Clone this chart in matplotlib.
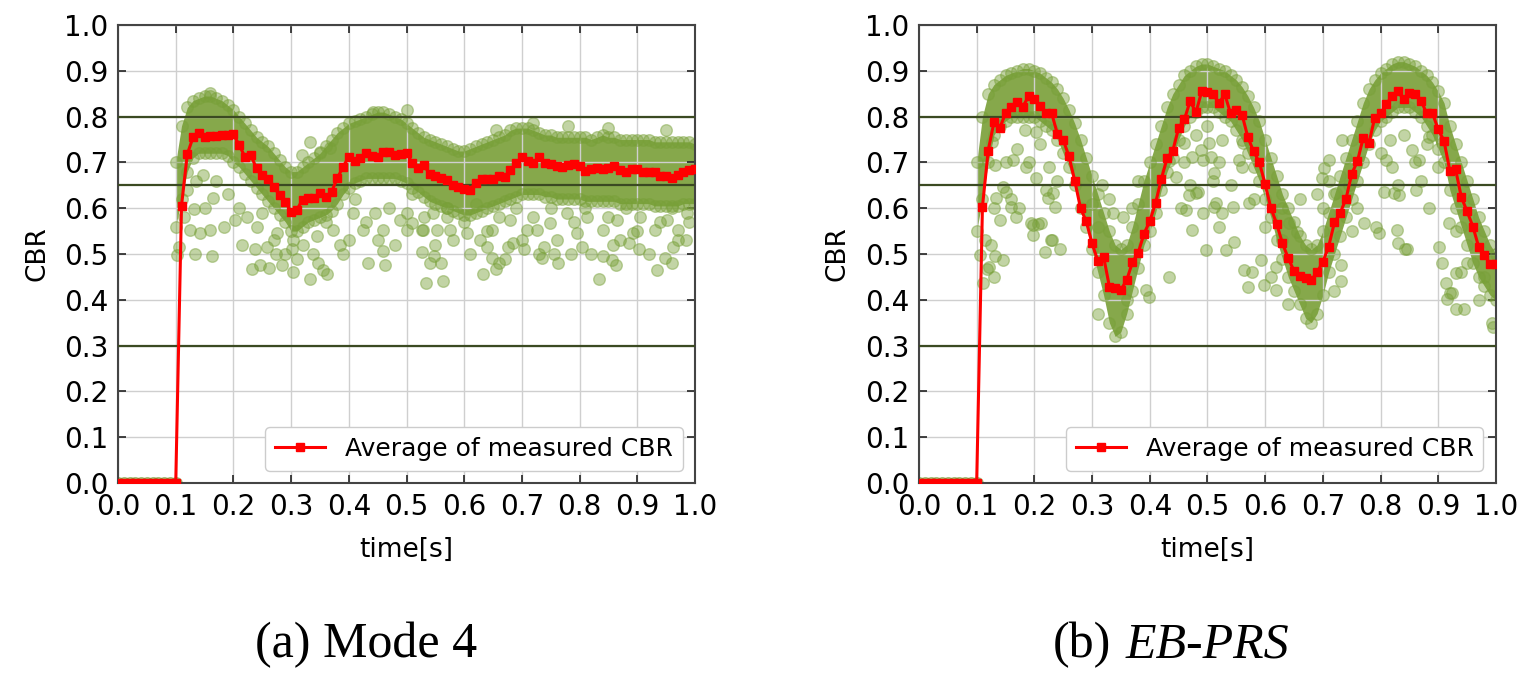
import numpy as np
import matplotlib
matplotlib.use("Agg")
import matplotlib.pyplot as plt

# time grid of the averaged curve (every 10 ms)
t_avg = np.round(np.arange(0, 101) * 0.01, 2)

# average of measured CBR, Mode 4
avg_mode4 = [0.0] * 11 + [
    0.605, 0.718, 0.755, 0.764, 0.756, 0.757, 0.757, 0.760, 0.760, 0.761,
    0.738, 0.712, 0.716, 0.687, 0.672, 0.663, 0.646, 0.629, 0.614, 0.592,
    0.597, 0.619, 0.622, 0.622, 0.634, 0.625, 0.636, 0.665, 0.691, 0.712,
    0.702, 0.709, 0.721, 0.714, 0.711, 0.723, 0.723, 0.716, 0.718, 0.720,
    0.699, 0.687, 0.694, 0.675, 0.671, 0.667, 0.662, 0.651, 0.647, 0.643,
    0.640, 0.656, 0.663, 0.663, 0.663, 0.671, 0.669, 0.683, 0.698, 0.711,
    0.704, 0.699, 0.712, 0.698, 0.696, 0.692, 0.691, 0.694, 0.697, 0.693,
    0.682, 0.685, 0.688, 0.685, 0.688, 0.692, 0.684, 0.678, 0.685, 0.685,
    0.678, 0.680, 0.680, 0.670, 0.670, 0.665, 0.672, 0.678, 0.683, 0.686]

# average of measured CBR, EB-PRS
avg_ebprs = [0.0] * 11 + [
    0.603, 0.726, 0.788, 0.775, 0.807, 0.820, 0.831, 0.822, 0.844, 0.839,
    0.823, 0.807, 0.807, 0.762, 0.749, 0.713, 0.660, 0.600, 0.571, 0.523,
    0.485, 0.494, 0.429, 0.425, 0.422, 0.443, 0.482, 0.503, 0.544, 0.572,
    0.611, 0.664, 0.709, 0.726, 0.775, 0.794, 0.834, 0.809, 0.855, 0.853,
    0.849, 0.829, 0.849, 0.807, 0.815, 0.804, 0.755, 0.724, 0.700, 0.652,
    0.600, 0.566, 0.523, 0.491, 0.463, 0.452, 0.447, 0.443, 0.460, 0.483,
    0.516, 0.569, 0.590, 0.620, 0.675, 0.703, 0.754, 0.743, 0.798, 0.807,
    0.827, 0.845, 0.855, 0.838, 0.852, 0.849, 0.835, 0.807, 0.807, 0.772,
    0.747, 0.682, 0.685, 0.624, 0.593, 0.560, 0.516, 0.498, 0.478, 0.478]

# dense cloud of measured CBR (upper / lower edge), t = 0.10 ... 1.00
t_band = t_avg[10:]
hi_mode4 = [
    0.70, 0.78, 0.82, 0.835, 0.84, 0.845, 0.845, 0.84, 0.835, 0.825,
    0.815, 0.80, 0.785, 0.77, 0.755, 0.745, 0.735, 0.72, 0.705, 0.69,
    0.68, 0.68, 0.69, 0.70, 0.71, 0.72, 0.735, 0.75, 0.765, 0.775,
    0.785, 0.79, 0.795, 0.80, 0.805, 0.81, 0.81, 0.805, 0.80, 0.795,
    0.785, 0.775, 0.765, 0.755, 0.75, 0.745, 0.74, 0.735, 0.73, 0.725,
    0.725, 0.73, 0.735, 0.74, 0.745, 0.75, 0.755, 0.76, 0.77, 0.775,
    0.775, 0.775, 0.77, 0.765, 0.76, 0.76, 0.755, 0.755, 0.755, 0.755,
    0.755, 0.755, 0.75, 0.755, 0.76, 0.755, 0.755, 0.75, 0.75, 0.75,
    0.75, 0.75, 0.75, 0.745, 0.745, 0.745, 0.745, 0.745, 0.745, 0.745,
    0.74]
lo_mode4 = [
    0.56, 0.62, 0.68, 0.71, 0.72, 0.72, 0.72, 0.72, 0.72, 0.715,
    0.70, 0.69, 0.675, 0.66, 0.645, 0.63, 0.615, 0.60, 0.585, 0.57,
    0.55, 0.55, 0.56, 0.57, 0.575, 0.58, 0.585, 0.595, 0.61, 0.63,
    0.645, 0.655, 0.66, 0.665, 0.665, 0.665, 0.665, 0.665, 0.665, 0.66,
    0.655, 0.645, 0.635, 0.625, 0.615, 0.61, 0.605, 0.60, 0.595, 0.59,
    0.585, 0.585, 0.59, 0.595, 0.60, 0.605, 0.61, 0.615, 0.62, 0.625,
    0.63, 0.63, 0.63, 0.63, 0.625, 0.625, 0.62, 0.62, 0.62, 0.62,
    0.62, 0.615, 0.615, 0.615, 0.615, 0.615, 0.615, 0.61, 0.61, 0.61,
    0.61, 0.61, 0.61, 0.605, 0.605, 0.605, 0.605, 0.605, 0.61, 0.61,
    0.61]
hi_ebprs = [
    0.70, 0.80, 0.85, 0.87, 0.88, 0.89, 0.895, 0.90, 0.905, 0.905,
    0.90, 0.895, 0.885, 0.875, 0.86, 0.84, 0.815, 0.785, 0.75, 0.71,
    0.67, 0.63, 0.59, 0.55, 0.52, 0.51, 0.52, 0.56, 0.61, 0.66,
    0.70, 0.74, 0.78, 0.82, 0.85, 0.87, 0.89, 0.90, 0.91, 0.915,
    0.915, 0.91, 0.905, 0.90, 0.89, 0.88, 0.865, 0.845, 0.82, 0.79,
    0.75, 0.71, 0.67, 0.63, 0.60, 0.57, 0.54, 0.52, 0.51, 0.52,
    0.55, 0.59, 0.63, 0.67, 0.71, 0.75, 0.79, 0.83, 0.86, 0.88,
    0.895, 0.905, 0.915, 0.92, 0.92, 0.915, 0.91, 0.90, 0.89, 0.875,
    0.855, 0.83, 0.78, 0.74, 0.70, 0.66, 0.62, 0.58, 0.55, 0.52,
    0.50]
lo_ebprs = [
    0.55, 0.62, 0.70, 0.76, 0.78, 0.79, 0.80, 0.80, 0.80, 0.80,
    0.80, 0.79, 0.78, 0.77, 0.75, 0.72, 0.69, 0.65, 0.60, 0.56,
    0.51, 0.46, 0.41, 0.35, 0.32, 0.33, 0.37, 0.42, 0.47, 0.52,
    0.55, 0.59, 0.64, 0.68, 0.71, 0.75, 0.78, 0.80, 0.81, 0.82,
    0.82, 0.82, 0.81, 0.80, 0.79, 0.77, 0.75, 0.72, 0.69, 0.66,
    0.62, 0.58, 0.53, 0.49, 0.45, 0.42, 0.39, 0.36, 0.35, 0.37,
    0.41, 0.46, 0.50, 0.54, 0.58, 0.62, 0.66, 0.70, 0.74, 0.77,
    0.79, 0.80, 0.81, 0.82, 0.82, 0.82, 0.81, 0.80, 0.78, 0.76,
    0.73, 0.70, 0.64, 0.60, 0.56, 0.52, 0.48, 0.45, 0.43, 0.41,
    0.40]

# scattered single measurements outside the dense cloud
sx_mode4 = [0.102, 0.105, 0.133, 0.162, 0.232, 0.246, 0.261, 0.284, 0.303, 0.332,
            0.355, 0.362, 0.434, 0.463, 0.534, 0.563, 0.540, 0.559, 0.237, 0.258,
            0.274, 0.302, 0.338, 0.347, 0.384, 0.459, 0.526, 0.548, 0.633, 0.655,
            0.661, 0.648, 0.640, 0.675, 0.685, 0.704, 0.734, 0.739, 0.756, 0.763,
            0.785, 0.804, 0.834, 0.840, 0.858, 0.863, 0.856, 0.886, 0.903, 0.934,
            0.948, 0.960, 0.962, 0.984, 0.125, 0.142, 0.159, 0.131, 0.165, 0.148,
            0.183, 0.203, 0.223, 0.240, 0.275, 0.304, 0.318, 0.333, 0.350, 0.367,
            0.373, 0.408, 0.425, 0.445, 0.460, 0.489, 0.509, 0.529, 0.552, 0.570,
            0.500, 0.526, 0.546, 0.575, 0.604, 0.627, 0.648, 0.679, 0.708, 0.726,
            0.749, 0.778, 0.795, 0.812, 0.841, 0.864, 0.893, 0.905, 0.931, 0.951,
            0.971, 0.986, 0.159, 0.442, 0.500,
            0.115, 0.120, 0.135, 0.150, 0.170, 0.190, 0.210, 0.215, 0.250, 0.270,
            0.290, 0.310, 0.320, 0.345, 0.360, 0.390, 0.400, 0.410, 0.430, 0.450,
            0.470, 0.480, 0.500, 0.510, 0.530, 0.550, 0.570, 0.580, 0.600, 0.610,
            0.620, 0.640, 0.660, 0.670, 0.690, 0.700, 0.720, 0.730, 0.750, 0.760,
            0.790, 0.810, 0.820, 0.850, 0.870, 0.880, 0.900, 0.920, 0.940, 0.960,
            0.970, 0.990, 0.655, 0.720, 0.780, 0.850, 0.950]
sy_mode4 = [0.498, 0.516, 0.501, 0.496, 0.467, 0.476, 0.470, 0.476, 0.461, 0.445,
            0.465, 0.456, 0.481, 0.476, 0.436, 0.441, 0.481, 0.480, 0.510, 0.516,
            0.500, 0.511, 0.500, 0.481, 0.520, 0.507, 0.505, 0.496, 0.456, 0.467,
            0.480, 0.491, 0.516, 0.516, 0.525, 0.511, 0.491, 0.516, 0.501, 0.481,
            0.501, 0.516, 0.445, 0.496, 0.520, 0.476, 0.487, 0.523, 0.512, 0.465,
            0.491, 0.481, 0.516, 0.531, 0.552, 0.545, 0.552, 0.598, 0.622, 0.672,
            0.560, 0.574, 0.581, 0.560, 0.545, 0.531, 0.716, 0.745, 0.723, 0.731,
            0.552, 0.589, 0.552, 0.589, 0.552, 0.574, 0.567, 0.552, 0.552, 0.581,
            0.552, 0.552, 0.589, 0.552, 0.545, 0.531, 0.552, 0.574, 0.552, 0.552,
            0.567, 0.589, 0.545, 0.581, 0.552, 0.574, 0.545, 0.581, 0.552, 0.574,
            0.552, 0.589, 0.851, 0.811, 0.814,
            0.580, 0.640, 0.660, 0.600, 0.660, 0.630, 0.600, 0.520, 0.590, 0.530,
            0.500, 0.490, 0.520, 0.540, 0.570, 0.500, 0.530, 0.620, 0.570, 0.530,
            0.600, 0.520, 0.590, 0.630, 0.580, 0.520, 0.600, 0.530, 0.570, 0.500,
            0.610, 0.550, 0.580, 0.490, 0.600, 0.530, 0.580, 0.500, 0.600, 0.530,
            0.570, 0.600, 0.500, 0.580, 0.530, 0.600, 0.550, 0.500, 0.570, 0.600,
            0.530, 0.570, 0.770, 0.785, 0.780, 0.775, 0.770]

sx_ebprs = [0.125, 0.140, 0.122, 0.146, 0.160, 0.174, 0.195, 0.212, 0.229, 0.218,
            0.203, 0.186, 0.163, 0.183, 0.203, 0.223, 0.235, 0.146, 0.131, 0.318,
            0.336, 0.353, 0.434, 0.480, 0.463, 0.492, 0.515, 0.520, 0.498, 0.532,
            0.434, 0.445, 0.492, 0.503, 0.526, 0.394, 0.399, 0.105, 0.131, 0.111,
            0.118, 0.197, 0.245, 0.231, 0.546, 0.564, 0.571, 0.593, 0.578, 0.544,
            0.561, 0.554, 0.572, 0.619, 0.630, 0.642, 0.656, 0.771, 0.792, 0.829,
            0.843, 0.806, 0.823, 0.832, 0.861, 0.884, 0.918, 0.901, 0.907, 0.914,
            0.921, 0.855, 0.866, 0.884, 0.907, 0.817, 0.809, 0.722, 0.702, 0.699,
            0.711, 0.734, 0.598, 0.610, 0.619, 0.731, 0.731, 0.797, 0.831, 0.845,
            0.915, 0.931, 0.944, 0.924, 0.993, 0.994, 0.930, 0.939, 0.126, 0.134,
            0.151, 0.169, 0.221, 0.232, 0.197, 0.206, 0.454, 0.468, 0.483, 0.474,
            0.460, 0.474, 0.489, 0.512, 0.526, 0.512, 0.506,
            0.115, 0.130, 0.150, 0.170, 0.190, 0.210, 0.225, 0.240, 0.130, 0.160,
            0.300, 0.310, 0.330, 0.370, 0.380, 0.360, 0.310, 0.460, 0.480, 0.500,
            0.520, 0.540, 0.510, 0.470, 0.560, 0.580, 0.600, 0.630, 0.660, 0.690,
            0.700, 0.710, 0.640, 0.720, 0.800, 0.820, 0.840, 0.860, 0.880, 0.830,
            0.870, 0.900, 0.930, 0.950, 0.970, 0.980, 0.750, 0.760, 0.745]
sy_ebprs = [0.520, 0.574, 0.472, 0.487, 0.603, 0.600, 0.567, 0.567, 0.531, 0.505,
            0.665, 0.691, 0.705, 0.771, 0.767, 0.622, 0.603, 0.647, 0.694, 0.651,
            0.589, 0.581, 0.450, 0.633, 0.596, 0.589, 0.611, 0.560, 0.509, 0.509,
            0.702, 0.669, 0.705, 0.742, 0.749, 0.421, 0.407, 0.498, 0.496, 0.436,
            0.467, 0.541, 0.512, 0.531, 0.527, 0.465, 0.429, 0.487, 0.461, 0.603,
            0.742, 0.705, 0.611, 0.472, 0.531, 0.567, 0.549, 0.567, 0.560, 0.552,
            0.512, 0.636, 0.633, 0.629, 0.640, 0.600, 0.567, 0.516, 0.480, 0.436,
            0.414, 0.727, 0.705, 0.756, 0.742, 0.749, 0.705, 0.633, 0.687, 0.665,
            0.705, 0.749, 0.432, 0.450, 0.421, 0.476, 0.442, 0.545, 0.525, 0.511,
            0.401, 0.381, 0.381, 0.414, 0.350, 0.341, 0.458, 0.461, 0.745, 0.622,
            0.636, 0.581, 0.640, 0.633, 0.563, 0.566, 0.600, 0.629, 0.636, 0.552,
            0.742, 0.712, 0.727, 0.603, 0.589, 0.676, 0.712,
            0.530, 0.450, 0.700, 0.730, 0.700, 0.740, 0.690, 0.660, 0.600, 0.620,
            0.610, 0.560, 0.620, 0.600, 0.660, 0.400, 0.370, 0.700, 0.760, 0.780,
            0.700, 0.650, 0.660, 0.650, 0.690, 0.620, 0.560, 0.600, 0.620, 0.630,
            0.600, 0.660, 0.390, 0.420, 0.720, 0.690, 0.760, 0.700, 0.740, 0.650,
            0.660, 0.690, 0.550, 0.480, 0.400, 0.450, 0.550, 0.600, 0.650]

thresholds = [0.3, 0.65, 0.8]

green = "#78a038"
dense = "#86a84b"
line_col = "#3b4a22"

plt.rcParams["font.family"] = "DejaVu Sans"

fig = plt.figure(figsize=(15.37, 6.87), dpi=100)
ax1 = fig.add_axes([0.0768, 0.2969, 0.3754, 0.6667])
ax2 = fig.add_axes([0.5979, 0.2969, 0.3754, 0.6667])


def draw_panel(ax, avg, hi, lo, sx, sy):
    ax.grid(True, color="#cfcfcf", linewidth=1.0, zorder=0)
    ax.fill_between(t_band, lo, hi, color=dense, linewidth=0, zorder=1)
    ax.scatter(t_band, hi, s=70, color=green, alpha=0.45, zorder=2)
    ax.scatter(t_band, lo, s=70, color=green, alpha=0.45, zorder=2)
    ax.scatter(sx, sy, s=70, color=green, alpha=0.45, zorder=2)
    ax.scatter(t_avg[:11], avg[:11], s=70, color=green, alpha=0.6, zorder=2)
    for th in thresholds:
        ax.axhline(th, color=line_col, linewidth=1.6, zorder=3)
    ax.plot(t_avg, avg, color="red", linewidth=2.2, marker="s", markersize=6,
            label="Average of measured CBR", zorder=4)
    ax.set_xlim(0, 1)
    ax.set_ylim(0, 1)
    ax.set_xticks(np.round(np.arange(0, 11) * 0.1, 1))
    ax.set_yticks(np.round(np.arange(0, 11) * 0.1, 1))
    ax.tick_params(direction="in", top=True, right=True, length=6, width=1.2,
                   labelsize=20, pad=7, colors="#222222", labelcolor="black")
    for sp in ax.spines.values():
        sp.set_color("#444444")
        sp.set_linewidth(1.5)
    ax.set_xlabel("time[s]", fontsize=19, labelpad=12)
    ax.set_ylabel("CBR", fontsize=19, labelpad=10)
    ax.legend(loc="lower right", fontsize=18, framealpha=1.0, edgecolor="#cccccc")


draw_panel(ax1, avg_mode4, hi_mode4, lo_mode4, sx_mode4, sy_mode4)
draw_panel(ax2, avg_ebprs, hi_ebprs, lo_ebprs, sx_ebprs, sy_ebprs)

# sub captions
fig.text(366 / 1537, 1 - 645 / 687, "(a) Mode 4", family="Liberation Serif",
         fontsize=36, ha="center", va="center")
fig.text(1053 / 1537, 1 - 645 / 687, "(b)", family="Liberation Serif",
         fontsize=36, ha="left", va="center")
fig.text(1126 / 1537, 1 - 645 / 687, "EB-PRS", family="Liberation Serif",
         style="italic", fontsize=36, ha="left", va="center")

fig.savefig("out.png", dpi=100)
